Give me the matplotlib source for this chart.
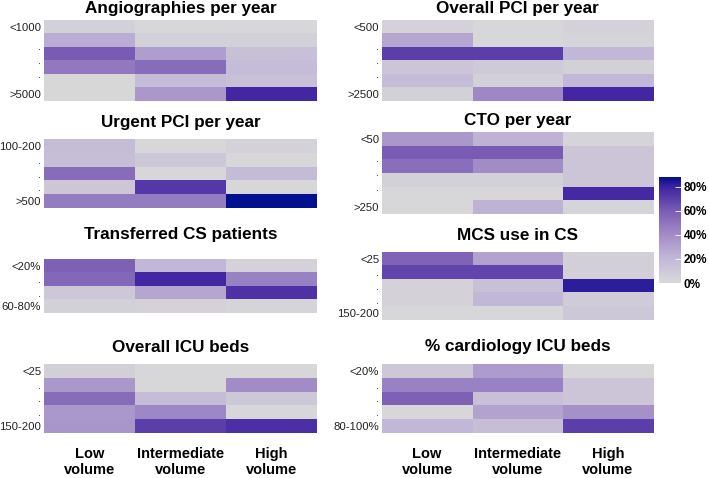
import matplotlib
matplotlib.use('Agg')
import matplotlib.pyplot as plt
import numpy as np
from matplotlib.colors import LinearSegmentedColormap

plt.rcParams['font.family'] = ['Liberation Sans', 'DejaVu Sans']

volumes = ['Low\nvolume', 'Intermediate\nvolume', 'High\nvolume']

# share of centres per category (rows top to bottom), columns: low, intermediate, high volume
angio = [[0.05, 0.02, 0.02],
         [0.25, 0.05, 0.05],
         [0.60, 0.32, 0.15],
         [0.48, 0.53, 0.17],
         [0.01, 0.17, 0.15],
         [0.01, 0.35, 0.78]]
angio_labels = ['<1000', '.', '.', '.', '>5000']

pci = [[0.04, 0.02, 0.04],
       [0.28, 0.02, 0.03],
       [0.70, 0.70, 0.20],
       [0.12, 0.09, 0.05],
       [0.17, 0.05, 0.20],
       [0.05, 0.42, 0.78]]
pci_labels = ['<500', '.', '.', '.', '>2500']

urgent = [[0.17, 0.02, 0.04],
          [0.16, 0.10, 0.02],
          [0.53, 0.02, 0.18],
          [0.11, 0.72, 0.02],
          [0.47, 0.47, 0.88]]
urgent_labels = ['100-200', '.', '.', '.', '>500']

cto = [[0.35, 0.22, 0.03],
       [0.60, 0.60, 0.12],
       [0.52, 0.40, 0.12],
       [0.05, 0.05, 0.12],
       [0.02, 0.02, 0.77],
       [0.02, 0.22, 0.03]]
cto_labels = ['<50', '.', '.', '.', '>250']

transfer = [[0.58, 0.20, 0.04],
            [0.55, 0.78, 0.44],
            [0.10, 0.28, 0.74],
            [0.05, 0.04, 0.03]]
transfer_labels = ['<20%', '.', '.', '60-80%']

mcs = [[0.57, 0.30, 0.06],
       [0.68, 0.68, 0.06],
       [0.04, 0.15, 0.82],
       [0.04, 0.20, 0.08],
       [0.02, 0.02, 0.10]]
mcs_labels = ['<25', '.', '.', '.', '150-200']

icu = [[0.06, 0.02, 0.02],
       [0.35, 0.02, 0.40],
       [0.53, 0.17, 0.10],
       [0.35, 0.42, 0.02],
       [0.36, 0.70, 0.75]]
icu_labels = ['<25', '.', '.', '.', '150-200']

cardio = [[0.10, 0.33, 0.02],
          [0.44, 0.44, 0.12],
          [0.58, 0.15, 0.12],
          [0.02, 0.30, 0.38],
          [0.20, 0.16, 0.70]]
cardio_labels = ['<20%', '.', '.', '.', '80-100%']

vmax = 0.88
cmap = LinearSegmentedColormap.from_list('gp', [
    (0.0, '#d9d9d9'),
    (0.2 / vmax, '#c2b8d7'),
    (0.4 / vmax, '#a28dc7'),
    (0.6 / vmax, '#7a5cb4'),
    (0.8 / vmax, '#3d22a0'),
    (1.0, '#00108f')])

W, H = 709, 478
fig = plt.figure(figsize=(W / 100, H / 100), dpi=100)


def panel(data, labels, title, x0, x1, y0, y1, ty, xlabels=False):
    ax = fig.add_axes([x0 / W, 1 - y1 / H, (x1 - x0) / W, (y1 - y0) / H])
    arr = np.array(data)
    n = arr.shape[0]
    im = ax.imshow(arr, cmap=cmap, vmin=0, vmax=vmax, aspect='auto',
                   interpolation='nearest')
    if len(labels) == n:
        pos = list(range(n))
    else:
        pos = [0, 1.4, 2.45, 3.5, n - 1]
    ax.set_yticks(pos)
    ax.set_yticklabels(labels, fontsize=8.2, color='#222222')
    ax.set_xticks(range(3))
    if xlabels:
        ax.set_xticklabels(volumes, fontsize=10.5, fontweight='bold', linespacing=1.15)
        ax.tick_params(axis='x', pad=10)
    else:
        ax.set_xticklabels([])
    ax.tick_params(length=0)
    ax.tick_params(axis='y', pad=2)
    for s in ax.spines.values():
        s.set_visible(False)
    fig.text((x0 + x1) / 2 / W, 1 - ty / H, title, ha='center', va='center',
             fontsize=12.3, fontweight='bold')
    return im


im = panel(angio, angio_labels, 'Angiographies per year', 44, 317, 20, 101, 9)
panel(pci, pci_labels, 'Overall PCI per year', 382, 653, 20, 101, 9)
panel(urgent, urgent_labels, 'Urgent PCI per year', 44, 317, 139, 208, 123)
panel(cto, cto_labels, 'CTO per year', 382, 653, 132, 214, 121)
panel(transfer, transfer_labels, 'Transferred CS patients', 44, 317, 259, 313, 235)
panel(mcs, mcs_labels, 'MCS use in CS', 382, 653, 252, 320, 235)
panel(icu, icu_labels, 'Overall ICU beds', 44, 317, 364, 433, 347, xlabels=True)
panel(cardio, cardio_labels, '% cardiology ICU beds', 382, 653, 364, 433, 347, xlabels=True)

cax = fig.add_axes([659 / W, 1 - 283 / H, 22 / W, 106 / H])
cb = fig.colorbar(im, cax=cax, ticks=[0, 0.2, 0.4, 0.6, 0.8])
cb.ax.set_yticklabels(['0%', '20%', '40%', '60%', '80%'], fontsize=8.5, fontweight='bold')
cb.ax.tick_params(color='white', direction='in', length=4, width=0.6, pad=2)
cb.outline.set_visible(False)

fig.savefig('out.png', dpi=100)
